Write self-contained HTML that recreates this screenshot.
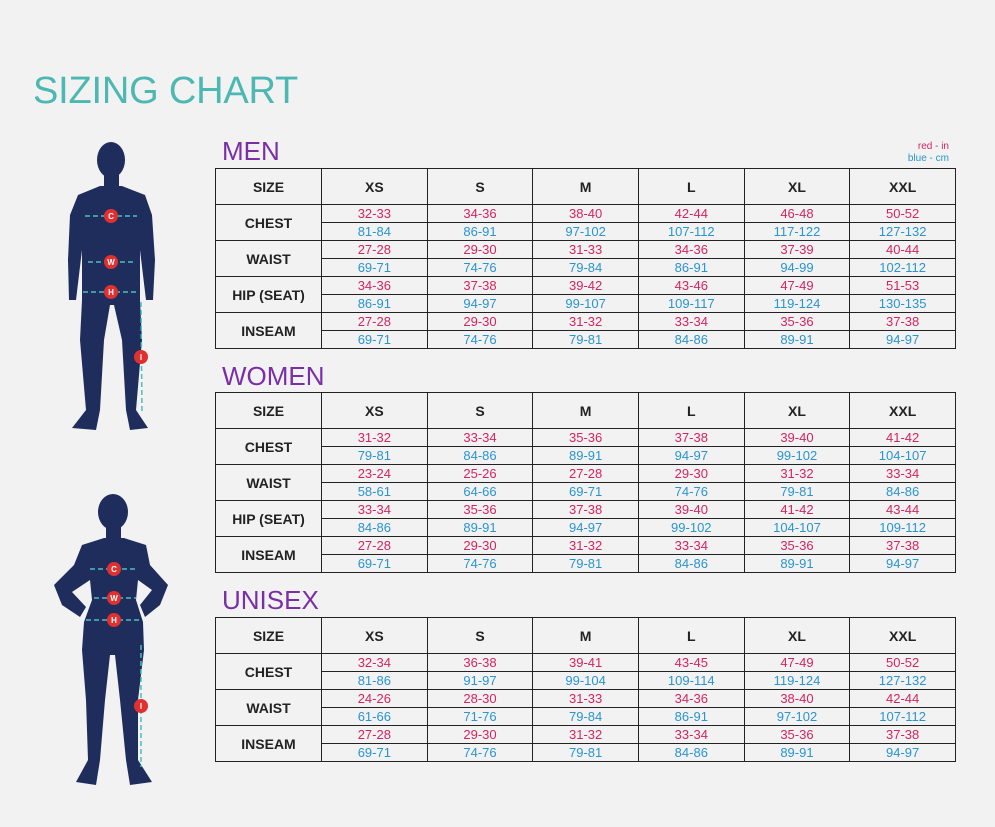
<!DOCTYPE html>
<html><head><meta charset="utf-8"><style>
body{margin:0;width:995px;height:827px;background:#f2f2f2;position:relative;overflow:hidden;font-family:"Liberation Sans",sans-serif}
.t{position:absolute;left:215px;border-collapse:collapse;table-layout:fixed;width:741px}
.t td{border:1px solid #222;text-align:center;padding:0;font-size:13px;line-height:16px;height:17px}
.t tr.h td{height:35px;font-size:14px;font-weight:bold;color:#222}
.t td.l{font-size:14px;font-weight:bold;color:#222}
.r{color:#d4245f}.b{color:#2a94cf}
.ttl{position:absolute;left:222px;font-size:26px;color:#7a2fa6;}
</style></head><body>
<div style="position:absolute;left:33px;top:70px;font-size:38px;color:#4cb8b1;letter-spacing:-0.2px">SIZING CHART</div>
<div style="position:absolute;right:46px;top:141px;font-size:10px;line-height:12px;text-align:right"><span class="r">red - in</span><br><span class="b">blue - cm</span></div>
<div class="ttl" style="top:136px">MEN</div>
<div class="ttl" style="top:361px">WOMEN</div>
<div class="ttl" style="top:585px">UNISEX</div>

<table class="t" style="top:168px"><colgroup><col style="width:106px"><col><col><col><col><col><col></colgroup>
<tr class="h"><td>SIZE</td><td>XS</td><td>S</td><td>M</td><td>L</td><td>XL</td><td>XXL</td></tr>
<tr><td class="l" rowspan="2">CHEST</td><td class="r">32-33</td><td class="r">34-36</td><td class="r">38-40</td><td class="r">42-44</td><td class="r">46-48</td><td class="r">50-52</td></tr>
<tr><td class="b">81-84</td><td class="b">86-91</td><td class="b">97-102</td><td class="b">107-112</td><td class="b">117-122</td><td class="b">127-132</td></tr>
<tr><td class="l" rowspan="2">WAIST</td><td class="r">27-28</td><td class="r">29-30</td><td class="r">31-33</td><td class="r">34-36</td><td class="r">37-39</td><td class="r">40-44</td></tr>
<tr><td class="b">69-71</td><td class="b">74-76</td><td class="b">79-84</td><td class="b">86-91</td><td class="b">94-99</td><td class="b">102-112</td></tr>
<tr><td class="l" rowspan="2">HIP (SEAT)</td><td class="r">34-36</td><td class="r">37-38</td><td class="r">39-42</td><td class="r">43-46</td><td class="r">47-49</td><td class="r">51-53</td></tr>
<tr><td class="b">86-91</td><td class="b">94-97</td><td class="b">99-107</td><td class="b">109-117</td><td class="b">119-124</td><td class="b">130-135</td></tr>
<tr><td class="l" rowspan="2">INSEAM</td><td class="r">27-28</td><td class="r">29-30</td><td class="r">31-32</td><td class="r">33-34</td><td class="r">35-36</td><td class="r">37-38</td></tr>
<tr><td class="b">69-71</td><td class="b">74-76</td><td class="b">79-81</td><td class="b">84-86</td><td class="b">89-91</td><td class="b">94-97</td></tr>
</table>

<table class="t" style="top:392px"><colgroup><col style="width:106px"><col><col><col><col><col><col></colgroup>
<tr class="h"><td>SIZE</td><td>XS</td><td>S</td><td>M</td><td>L</td><td>XL</td><td>XXL</td></tr>
<tr><td class="l" rowspan="2">CHEST</td><td class="r">31-32</td><td class="r">33-34</td><td class="r">35-36</td><td class="r">37-38</td><td class="r">39-40</td><td class="r">41-42</td></tr>
<tr><td class="b">79-81</td><td class="b">84-86</td><td class="b">89-91</td><td class="b">94-97</td><td class="b">99-102</td><td class="b">104-107</td></tr>
<tr><td class="l" rowspan="2">WAIST</td><td class="r">23-24</td><td class="r">25-26</td><td class="r">27-28</td><td class="r">29-30</td><td class="r">31-32</td><td class="r">33-34</td></tr>
<tr><td class="b">58-61</td><td class="b">64-66</td><td class="b">69-71</td><td class="b">74-76</td><td class="b">79-81</td><td class="b">84-86</td></tr>
<tr><td class="l" rowspan="2">HIP (SEAT)</td><td class="r">33-34</td><td class="r">35-36</td><td class="r">37-38</td><td class="r">39-40</td><td class="r">41-42</td><td class="r">43-44</td></tr>
<tr><td class="b">84-86</td><td class="b">89-91</td><td class="b">94-97</td><td class="b">99-102</td><td class="b">104-107</td><td class="b">109-112</td></tr>
<tr><td class="l" rowspan="2">INSEAM</td><td class="r">27-28</td><td class="r">29-30</td><td class="r">31-32</td><td class="r">33-34</td><td class="r">35-36</td><td class="r">37-38</td></tr>
<tr><td class="b">69-71</td><td class="b">74-76</td><td class="b">79-81</td><td class="b">84-86</td><td class="b">89-91</td><td class="b">94-97</td></tr>
</table>

<table class="t" style="top:617px"><colgroup><col style="width:106px"><col><col><col><col><col><col></colgroup>
<tr class="h"><td>SIZE</td><td>XS</td><td>S</td><td>M</td><td>L</td><td>XL</td><td>XXL</td></tr>
<tr><td class="l" rowspan="2">CHEST</td><td class="r">32-34</td><td class="r">36-38</td><td class="r">39-41</td><td class="r">43-45</td><td class="r">47-49</td><td class="r">50-52</td></tr>
<tr><td class="b">81-86</td><td class="b">91-97</td><td class="b">99-104</td><td class="b">109-114</td><td class="b">119-124</td><td class="b">127-132</td></tr>
<tr><td class="l" rowspan="2">WAIST</td><td class="r">24-26</td><td class="r">28-30</td><td class="r">31-33</td><td class="r">34-36</td><td class="r">38-40</td><td class="r">42-44</td></tr>
<tr><td class="b">61-66</td><td class="b">71-76</td><td class="b">79-84</td><td class="b">86-91</td><td class="b">97-102</td><td class="b">107-112</td></tr>
<tr><td class="l" rowspan="2">INSEAM</td><td class="r">27-28</td><td class="r">29-30</td><td class="r">31-32</td><td class="r">33-34</td><td class="r">35-36</td><td class="r">37-38</td></tr>
<tr><td class="b">69-71</td><td class="b">74-76</td><td class="b">79-81</td><td class="b">84-86</td><td class="b">89-91</td><td class="b">94-97</td></tr>
</table>

<svg style="position:absolute;left:0;top:0" width="200" height="827" viewBox="0 0 200 827">
<g fill="#1f2d5c">
<ellipse cx="111" cy="160" rx="14" ry="18"/>
<rect x="104" y="172" width="15" height="18"/>
<polygon points="78,195 100,186 122,186 145,195 152,215 155,260 153,300 146,300 140,250 140,300 142,340 136,410 148,428 130,430 126,410 122,340 114,305 110,305 104,340 100,410 96,430 72,428 86,410 80,340 82,300 82,250 76,300 69,300 68,260 70,215"/>
<ellipse cx="113" cy="512" rx="15" ry="18"/>
<rect x="106" y="524" width="15" height="18"/>
<polygon points="82,545 104,538 124,538 146,545 150,565 168,585 160,605 145,617 140,605 152,590 138,580 136,600 143,622 144,650 138,700 138,760 152,782 130,785 126,760 120,700 115,655 110,655 105,700 100,760 96,785 76,782 88,760 86,700 82,650 84,622 92,600 90,580 72,592 86,607 80,617 62,605 54,585 74,565"/>
</g>
<g stroke="#4bc0c0" stroke-width="1.5" stroke-dasharray="5,3" fill="none">
<line x1="85" y1="216" x2="137" y2="216"/><line x1="88" y1="262" x2="136" y2="262"/><line x1="83" y1="292" x2="139" y2="292"/><line x1="141" y1="302" x2="142" y2="412"/>
<line x1="90" y1="569" x2="138" y2="569"/><line x1="94" y1="598" x2="136" y2="598"/><line x1="86" y1="620" x2="141" y2="620"/><line x1="141" y1="645" x2="141" y2="767"/>
</g>
<g fill="#e03030"><circle cx="111" cy="216" r="7"/><circle cx="111" cy="262" r="7"/><circle cx="111" cy="292" r="7"/><circle cx="141" cy="357" r="7"/>
<circle cx="114" cy="569" r="7"/><circle cx="114" cy="598" r="7"/><circle cx="114" cy="620" r="7"/><circle cx="141" cy="706" r="7"/></g>
<g fill="#fff" font-size="8" font-weight="bold" text-anchor="middle" font-family="Liberation Sans">
<text x="111" y="219">C</text><text x="111" y="265">W</text><text x="111" y="295">H</text><text x="141" y="360">I</text>
<text x="114" y="572">C</text><text x="114" y="601">W</text><text x="114" y="623">H</text><text x="141" y="709">I</text></g>
</svg>
</body></html>
